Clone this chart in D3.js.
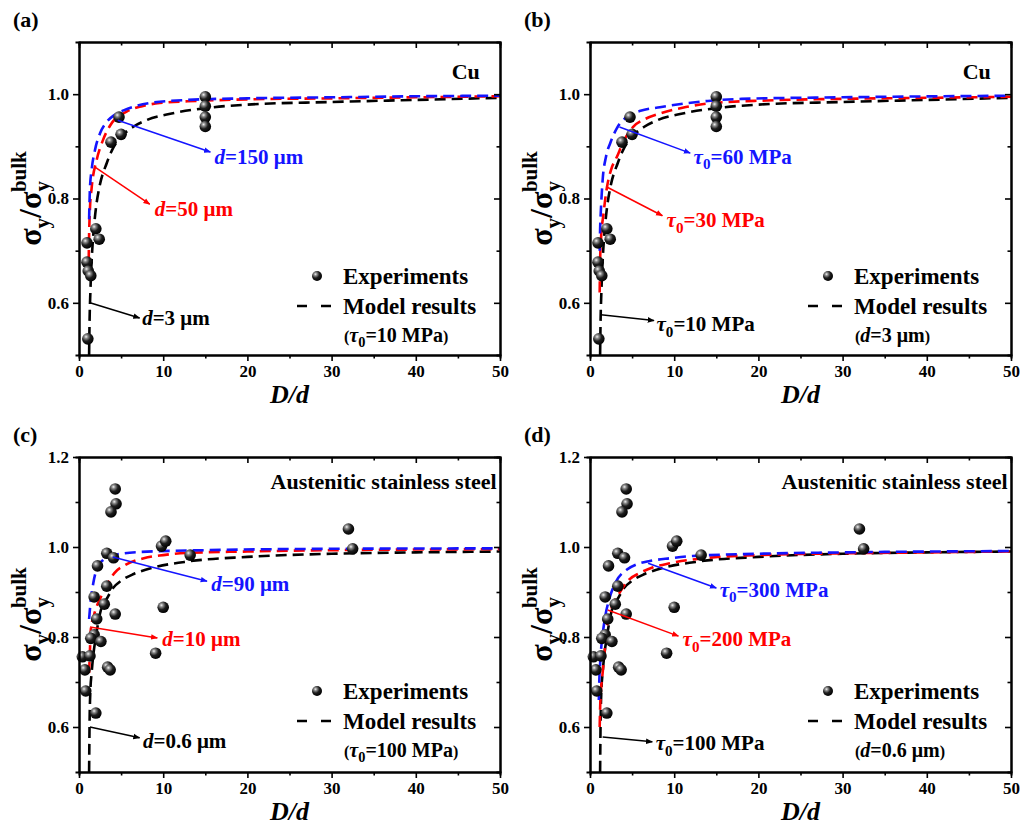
<!DOCTYPE html>
<html>
<head>
<meta charset="utf-8">
<script src="https://cdn.jsdelivr.net/npm/d3@7"></script>
<style>
  body { margin: 0; background: #fff; }
  svg { font-family: "Liberation Serif", "Times New Roman", serif; font-weight: bold; }
</style>
</head>
<body>
<svg id="fig" width="1022" height="835"></svg>
<script>
// axis ticks
var xMajor = [0, 10, 20, 30, 40, 50]
var xMinor = [5, 15, 25, 35, 45]
var cuYMajor = [0.6, 0.8, 1.0]
var cuYMinor = [0.7, 0.9]
var steelYMajor = [0.6, 0.8, 1.0, 1.2]
var steelYMinor = [0.7, 0.9, 1.1]

// experiments, Cu
var cuExpX = [4.75, 5.0, 3.8, 15, 15, 15, 15, 0.95, 2.0, 2.4, 0.95, 1.1, 1.4, 1.05]
var cuExpY = [0.956, 0.923, 0.908, 0.995, 0.977, 0.956, 0.938, 0.715, 0.742, 0.722, 0.678, 0.661, 0.652, 0.531]

// experiments, austenitic stainless steel
var steelExpX = [4.3, 4.4, 3.8, 3.3, 4.1, 2.2, 3.3, 1.8, 3.0, 4.3, 2.1, 9.8, 10.3, 10.0, 13.2,
  1.8, 1.4, 2.6, 0.4, 0.7, 1.3, 0.8, 2.0, 3.4, 3.7, 9.1, 32, 32.5]
var steelExpY = [1.129, 1.096, 1.078, 0.986, 0.976, 0.958, 0.913, 0.889, 0.873, 0.851, 0.84, 1.002, 1.013, 0.866, 0.982,
  0.805, 0.797, 0.79, 0.756, 0.727, 0.758, 0.68, 0.631, 0.733, 0.727, 0.764, 1.04, 0.996]

// model curves, Cu  (tau0 = 10 MPa, d = 3 um is shared by (a) and (b))
var cuD3Tau10 = [[1.2, 0.5], [1.25, 0.56], [1.35, 0.62], [1.5, 0.68], [1.75, 0.74], [2.0, 0.78], [2.4, 0.82],
  [3.3, 0.868], [4.0, 0.895], [5.0, 0.918], [6.4, 0.937], [8, 0.95], [11, 0.963], [16, 0.975], [20, 0.98],
  [30, 0.985], [40, 0.989], [50, 0.993]]
var cuD50 = [[1.15, 0.68], [1.2, 0.73], [1.3, 0.78], [1.5, 0.82], [2.1, 0.874], [2.8, 0.91], [3.7, 0.94],
  [5.7, 0.967], [7.5, 0.977], [9.6, 0.983], [14, 0.987], [20, 0.99], [30, 0.992], [40, 0.994], [50, 0.996]]
var cuD150 = [[1.2, 0.76], [1.3, 0.82], [1.5, 0.855], [1.9, 0.893], [2.5, 0.925], [3.3, 0.947], [4.2, 0.96],
  [5.3, 0.969], [8.4, 0.983], [13, 0.989], [20, 0.992], [30, 0.994], [40, 0.996], [50, 0.997]]
var cuTau30 = [[1.15, 0.62], [1.2, 0.68], [1.3, 0.72], [1.6, 0.77], [2.0, 0.82], [2.5, 0.855], [3.2, 0.88],
  [4, 0.91], [5.1, 0.937], [6.5, 0.952], [8.3, 0.963], [11, 0.974], [14, 0.982], [21, 0.988], [30, 0.991],
  [40, 0.993], [50, 0.995]]
var cuTau60 = [[1.15, 0.70], [1.2, 0.74], [1.3, 0.78], [1.5, 0.835], [1.9, 0.88], [2.4, 0.906], [3.2, 0.935],
  [4.4, 0.957], [6, 0.968], [8.3, 0.975], [14, 0.987], [18, 0.991], [30, 0.994], [50, 0.997]]

// model curves, steel (d = 0.6 um, tau0 = 100 MPa shared by (c) and (d))
var stD06Tau100 = [[1.2, 0.5], [1.25, 0.6], [1.35, 0.68], [1.5, 0.72], [1.7, 0.76], [2.0, 0.8], [2.6, 0.86],
  [3.3, 0.885], [4.1, 0.91], [5, 0.925], [6.5, 0.94], [9, 0.955], [13, 0.968], [20, 0.978], [30, 0.985],
  [40, 0.988], [50, 0.99]]
var stD10 = [[1.2, 0.72], [1.3, 0.77], [1.4, 0.816], [1.8, 0.85], [2.6, 0.889], [3.3, 0.915], [4.2, 0.942],
  [5.5, 0.96], [7.7, 0.975], [10, 0.982], [13, 0.987], [20, 0.99], [30, 0.993], [50, 0.995]]
var stD90 = [[1.2, 0.84], [1.4, 0.882], [1.7, 0.92], [2.2, 0.956], [2.8, 0.97], [3.4, 0.978], [5, 0.985],
  [7.3, 0.989], [15, 0.993], [30, 0.996], [50, 0.997]]
var stTau200 = [[1.15, 0.6], [1.2, 0.64], [1.3, 0.68], [1.5, 0.72], [1.8, 0.78], [2.0, 0.82], [2.5, 0.86],
  [3.5, 0.898], [4.5, 0.925], [5.9, 0.942], [7.5, 0.955], [9.5, 0.964], [14, 0.976], [20, 0.982], [30, 0.986],
  [40, 0.988], [50, 0.99]]
var stTau300 = [[1.05, 0.66], [1.1, 0.7], [1.2, 0.74], [1.35, 0.78], [1.6, 0.82], [1.8, 0.845], [2.3, 0.885],
  [3.0, 0.92], [4.4, 0.95], [5.6, 0.962], [7.1, 0.969], [9.5, 0.975], [12.2, 0.98], [20, 0.985], [30, 0.988],
  [50, 0.991]]

var colors = { black: '#000000', red: '#ff0000', blue: '#1414ff' }

var svg = d3.select('#fig')
var W = 421

// sphere look for the experiment markers
var defs = svg.append('defs')
var grad = defs.append('radialGradient').attr('id', 'ball')
  .attr('cx', '35%').attr('cy', '32%').attr('r', '70%')
grad.append('stop').attr('offset', '0%').attr('stop-color', '#f2f2f2')
grad.append('stop').attr('offset', '22%').attr('stop-color', '#8a8a8a')
grad.append('stop').attr('offset', '55%').attr('stop-color', '#1e1e1e')
grad.append('stop').attr('offset', '100%').attr('stop-color', '#000')
Object.keys(colors).forEach(function (k) {
  defs.append('marker').attr('id', 'arr-' + k)
    .attr('viewBox', '0 0 10 10').attr('refX', 9).attr('refY', 5)
    .attr('markerWidth', 7).attr('markerHeight', 7).attr('orient', 'auto')
    .attr('markerUnits', 'userSpaceOnUse')
    .append('path').attr('d', 'M0,1 L10,5 L0,9 Z').attr('fill', colors[k])
})

// writes "d=..." or "tau0=..." with italic symbol
function richLabel(t, kind, value, size) {
  if (kind === 'd') {
    t.append('tspan').attr('font-style', 'italic').text('d')
    t.append('tspan').text('=' + value)
  } else {
    t.append('tspan').attr('font-style', 'italic').text('τ')
    t.append('tspan').attr('font-size', size * 0.72).attr('dy', size * 0.28).text('0')
    t.append('tspan').attr('dy', -size * 0.28).text('=' + value)
  }
}

var panels = [
  { tag: '(a)', left: 79, top: 42, h: 313, yDomain: [0.5, 1.1], yMajor: cuYMajor, yMinor: cuYMinor,
    expX: cuExpX, expY: cuExpY, title: 'Cu', titleAt: [47.6, 1.03],
    curves: [[cuD3Tau10, 'black'], [cuD50, 'red'], [cuD150, 'blue']],
    notes: [
      { c: 'blue', from: [4.6, 0.95], to: [15.6, 0.889], at: [16.1, 0.866], kind: 'd', v: '150 μm' },
      { c: 'red', from: [1.9, 0.86], to: [8.4, 0.789], at: [9.0, 0.766], kind: 'd', v: '50 μm' },
      { c: 'black', from: [1.3, 0.6], to: [7.2, 0.571], at: [7.5, 0.557], kind: 'd', v: '3 μm' }
    ],
    legendNote: ['tau', '10 MPa'] },
  { tag: '(b)', left: 590, top: 42, h: 313, yDomain: [0.5, 1.1], yMajor: cuYMajor, yMinor: cuYMinor,
    expX: cuExpX, expY: cuExpY, title: 'Cu', titleAt: [47.6, 1.03],
    curves: [[cuD3Tau10, 'black'], [cuTau30, 'red'], [cuTau60, 'blue']],
    notes: [
      { c: 'blue', from: [3.5, 0.937], to: [11.9, 0.887], at: [12.3, 0.867], kind: 'tau', v: '60 MPa' },
      { c: 'red', from: [2.0, 0.822], to: [8.6, 0.767], at: [9.1, 0.746], kind: 'tau', v: '30 MPa' },
      { c: 'black', from: [1.3, 0.577], to: [7.6, 0.566], at: [7.9, 0.546], kind: 'tau', v: '10 MPa' }
    ],
    legendNote: ['d', '3 μm'] },
  { tag: '(c)', left: 79, top: 457, h: 315, yDomain: [0.5, 1.2], yMajor: steelYMajor, yMinor: steelYMinor,
    expX: steelExpX, expY: steelExpY, title: 'Austenitic stainless steel', titleAt: [49.6, 1.13],
    curves: [[stD06Tau100, 'black'], [stD10, 'red'], [stD90, 'blue']],
    notes: [
      { c: 'blue', from: [4.0, 0.978], to: [15.2, 0.924], at: [15.7, 0.902], kind: 'd', v: '90 μm' },
      { c: 'red', from: [1.3, 0.822], to: [9.3, 0.798], at: [9.9, 0.779], kind: 'd', v: '10 μm' },
      { c: 'black', from: [1.3, 0.6], to: [7.2, 0.576], at: [7.6, 0.553], kind: 'd', v: '0.6 μm' }
    ],
    legendNote: ['tau', '100 MPa'] },
  { tag: '(d)', left: 590, top: 457, h: 315, yDomain: [0.5, 1.2], yMajor: steelYMajor, yMinor: steelYMinor,
    expX: steelExpX, expY: steelExpY, title: 'Austenitic stainless steel', titleAt: [49.6, 1.13],
    curves: [[stD06Tau100, 'black'], [stTau200, 'red'], [stTau300, 'blue']],
    notes: [
      { c: 'blue', from: [6.9, 0.964], to: [15.0, 0.909], at: [15.4, 0.89], kind: 'tau', v: '300 MPa' },
      { c: 'red', from: [2.1, 0.86], to: [10.5, 0.802], at: [11.0, 0.78], kind: 'tau', v: '200 MPa' },
      { c: 'black', from: [1.5, 0.578], to: [7.4, 0.567], at: [7.8, 0.548], kind: 'tau', v: '100 MPa' }
    ],
    legendNote: ['d', '0.6 μm'] }
]

panels.forEach(function (p, i) {
  var g = svg.append('g').attr('transform', 'translate(' + p.left + ',' + p.top + ')')
  var x = d3.scaleLinear().domain([0, 50]).range([0, W])
  var y = d3.scaleLinear().domain(p.yDomain).range([p.h, 0])

  defs.append('clipPath').attr('id', 'clip' + i)
    .append('rect').attr('width', W).attr('height', p.h)

  // model curves
  var line = d3.line()
    .x(function (d) { return x(d[0]) })
    .y(function (d) { return y(d[1]) })
    .curve(d3.curveMonotoneX)
  g.append('g').attr('clip-path', 'url(#clip' + i + ')')
    .selectAll('path')
    .data(p.curves)
    .join('path')
    .attr('d', function (d) { return line(d[0]) })
    .attr('fill', 'none')
    .attr('stroke', function (d) { return colors[d[1]] })
    .attr('stroke-width', 2.6)
    .attr('stroke-dasharray', '11,6')

  // experiments
  g.append('g')
    .selectAll('circle')
    .data(d3.range(p.expX.length))
    .join('circle')
    .attr('cx', function (k) { return x(p.expX[k]) })
    .attr('cy', function (k) { return y(p.expY[k]) })
    .attr('r', 5.8)
    .attr('fill', 'url(#ball)')

  // axes
  var bottom = g.append('g').attr('transform', 'translate(0,' + p.h + ')')
  bottom.call(d3.axisBottom(x).tickValues(xMajor).tickSize(6).tickSizeOuter(0).tickPadding(4).tickFormat(d3.format('d')))
  bottom.append('g').call(d3.axisBottom(x).tickValues(xMinor).tickSize(3.5).tickFormat(''))
  var top = g.append('g')
  top.call(d3.axisTop(x).tickValues(xMajor).tickSize(-6).tickSizeOuter(0).tickFormat(''))
  top.append('g').call(d3.axisTop(x).tickValues(xMinor).tickSize(-3.5).tickFormat(''))
  var left = g.append('g')
  left.call(d3.axisLeft(y).tickValues(p.yMajor).tickSize(6).tickSizeOuter(0).tickPadding(4).tickFormat(d3.format('.1f')))
  left.append('g').call(d3.axisLeft(y).tickValues(p.yMinor).tickSize(3.5).tickFormat(''))
  var right = g.append('g').attr('transform', 'translate(' + W + ',0)')
  right.call(d3.axisRight(y).tickValues(p.yMajor).tickSize(-6).tickSizeOuter(0).tickFormat(''))
  right.append('g').call(d3.axisRight(y).tickValues(p.yMinor).tickSize(-3.5).tickFormat(''))

  g.selectAll('.domain').attr('stroke', '#000').attr('stroke-width', 2)
  g.selectAll('.tick line').attr('stroke', '#000').attr('stroke-width', 1.6)
  g.selectAll('.tick text')
    .attr('font-family', '"Liberation Serif", serif')
    .attr('font-weight', 'bold')
    .attr('font-size', 17)
    .attr('fill', '#000')

  // axis titles
  g.append('text')
    .attr('x', W / 2).attr('y', p.h + 48)
    .attr('text-anchor', 'middle')
    .attr('font-size', 26).attr('font-style', 'italic')
    .text('D/d')

  var yl = g.append('text')
    .attr('transform', 'translate(-38,' + p.h / 2 + ') rotate(-90)')
    .attr('text-anchor', 'middle')
    .attr('font-size', 32)
  yl.append('tspan').text('σ')
  yl.append('tspan').attr('font-size', 21).attr('dy', 8).text('y')
  yl.append('tspan').attr('dy', -8).text('/σ')
  yl.append('tspan').attr('font-size', 21).attr('dy', 8).text('y')
  yl.append('tspan').attr('font-size', 21).attr('dx', -11).attr('dy', -23).text('bulk')

  // panel tag
  svg.append('text')
    .attr('x', p.left - 66).attr('y', p.top - 15)
    .attr('font-size', 22)
    .text(p.tag)

  // material title
  g.append('text')
    .attr('x', x(p.titleAt[0])).attr('y', y(p.titleAt[1]))
    .attr('text-anchor', 'end')
    .attr('font-size', 22)
    .text(p.title)

  // arrows + labels
  p.notes.forEach(function (n) {
    g.append('line')
      .attr('x1', x(n.from[0])).attr('y1', y(n.from[1]))
      .attr('x2', x(n.to[0])).attr('y2', y(n.to[1]))
      .attr('stroke', colors[n.c]).attr('stroke-width', 1.5)
      .attr('marker-end', 'url(#arr-' + n.c + ')')
    var t = g.append('text')
      .attr('x', x(n.at[0])).attr('y', y(n.at[1]))
      .attr('font-size', 21)
      .attr('fill', colors[n.c])
    richLabel(t, n.kind, n.v, 21)
  })

  // legend
  var lg = g.append('g').attr('transform', 'translate(238,234)')
  lg.append('circle').attr('r', 5).attr('fill', 'url(#ball)')
  lg.append('line').attr('x1', -20).attr('x2', 14).attr('y1', 30).attr('y2', 30)
    .attr('stroke', '#000').attr('stroke-width', 2.6).attr('stroke-dasharray', '10,14')
  lg.append('text').attr('x', 26).attr('y', 0).attr('dy', '0.33em').attr('font-size', 23).text('Experiments')
  lg.append('text').attr('x', 26).attr('y', 30).attr('dy', '0.33em').attr('font-size', 23).text('Model results')
  var ln = lg.append('text').attr('x', 27).attr('y', 59).attr('dy', '0.33em').attr('font-size', 20)
  ln.append('tspan').attr('font-size', 16).text('(')
  richLabel(ln, p.legendNote[0], p.legendNote[1], 20)
  ln.append('tspan').attr('font-size', 16).text(')')
})
</script>
</body>
</html>
